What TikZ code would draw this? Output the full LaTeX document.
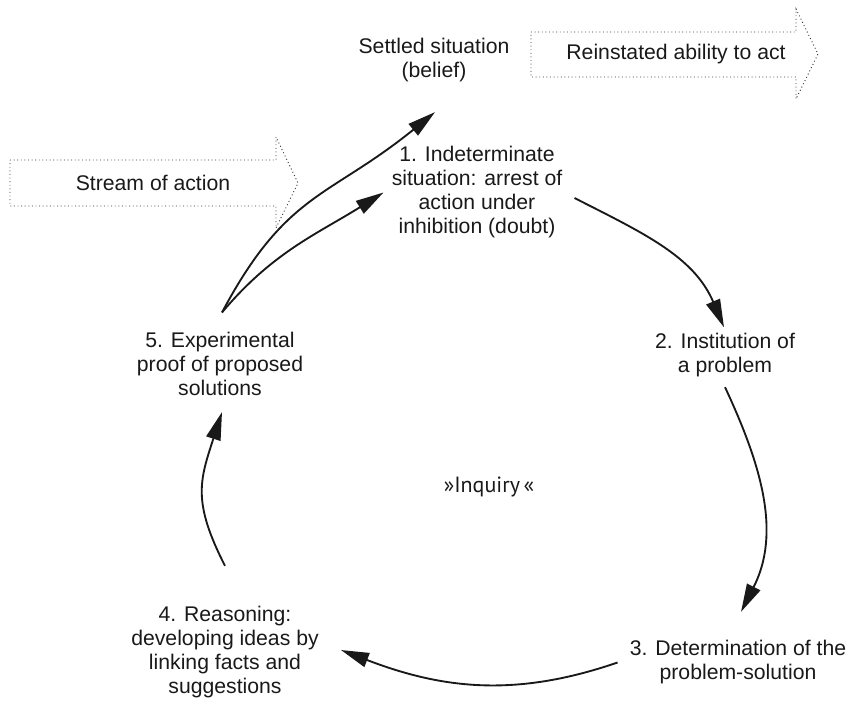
\documentclass[tikz,border=0pt]{standalone}
\usepackage{fontspec}
\setmainfont{Liberation Sans}
\newfontfamily\inqfont{PT Sans}
\usetikzlibrary{arrows.meta,calc}

\tikzset{
  stage/.style={align=center, inner sep=0pt, text=black!90, font=\fontsize{15.9}{18}\selectfont},
  flow/.style={-{Triangle[length=21pt,width=11pt]}, line width=1.4pt, black!90},
  blockarrow/.style={dotted, line width=0.7pt, black!80},
}

\begin{document}
\begin{tikzpicture}[x=0.75pt, y=0.75pt]
\useasboundingbox (0,0) rectangle (849,-700);

% block arrows
\draw[blockarrow] (531,-32) -- (796,-32) -- (796,-9) -- (818,-54) -- (796,-99) -- (796,-77) -- (531,-77) -- cycle;
\draw[blockarrow] (10,-160) -- (276,-160) -- (276,-137) -- (298,-183) -- (276,-228) -- (276,-206) -- (10,-206) -- cycle;

\node[stage] (Rein) at (676,-54)  {Reinstated ability to act};
\node[stage] (Str)  at (153,-183) {Stream of action};
\node[stage] (Set)  at (434,-60)  {Settled situation\\(belief)};

\node[stage] (S1) at (477,-192.5) {1. Indeterminate\\situation: arrest of\\action under\\inhibition (doubt)};
\node[stage] (S2) at (725,-355)   {2. Institution of\\a problem};
\node[stage] (S3) at (738,-662.5) {3. Determination of the\\problem-solution};
\node[stage] (S4) at (225,-652.5) {4. Reasoning:\\developing ideas by\\linking facts and\\suggestions};
\node[stage] (S5) at (220,-364)   {5. Experimental\\proof of proposed\\solutions};

\node[stage, font=\inqfont\fontsize{16.5}{18}\selectfont] (Inq) at (489,-487) {»Inquiry\,«};

\draw[flow] ($(S5.north)+(2,19.5)$) to[out=62, in=219, looseness=1.2] ($(Set.south)+(1,-30)$);
\draw[flow] ($(S5.north)+(2,19.5)$) to[out=50, in=212] ($(S1.west)+(-8,0)$);
\draw[flow] ($(S1.east)+(12,-5.5)$) to[out=-27, in=113] ($(S2.north)+(-1,5.5)$);
\draw[flow] ($(S2.south)+(0,-10)$) to[out=-65, in=63] ($(S3.north)+(3,28.5)$);
\draw[flow] ($(S3.west)+(-12,0)$) to[out=199, in=-21] ($(S4.east)+(22,2.5)$);
\draw[flow] ($(S4.north)+(0,40.5)$) to[out=117, in=252, looseness=1.2] ($(S5.south)+(2,-16)$);
\end{tikzpicture}
\end{document}
